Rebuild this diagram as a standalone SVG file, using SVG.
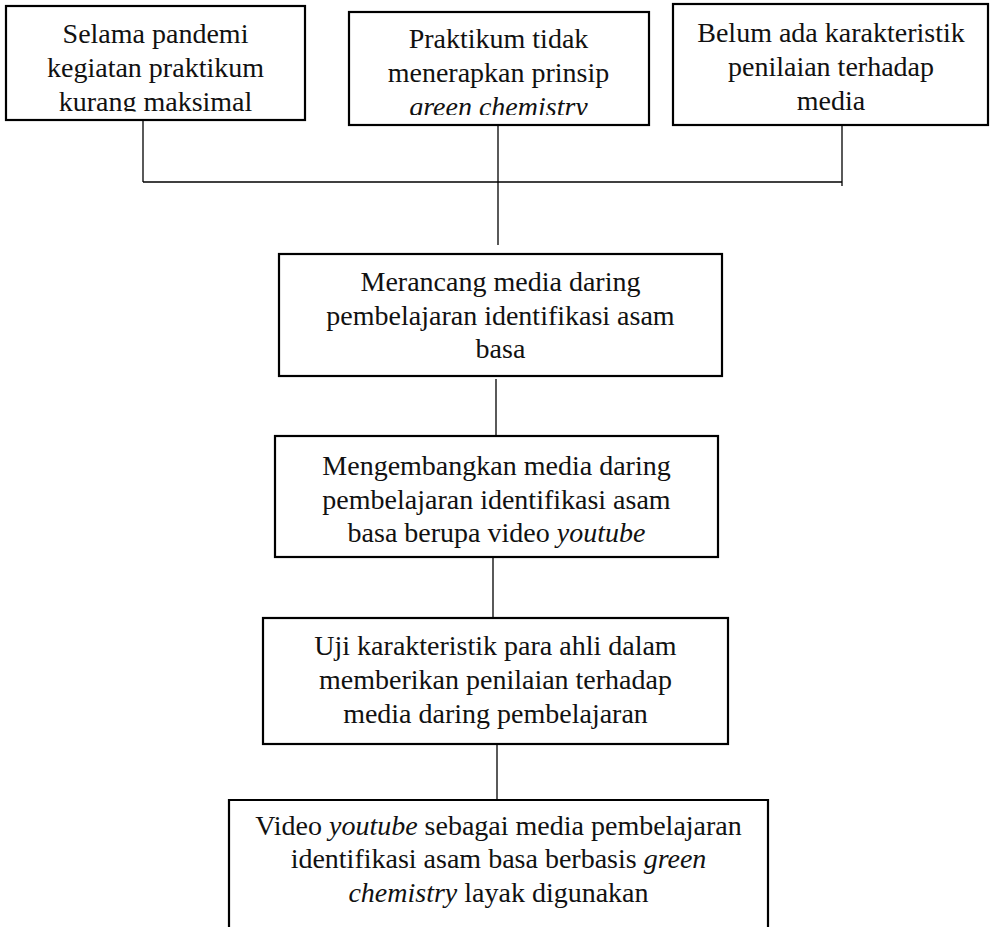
<svg xmlns="http://www.w3.org/2000/svg" width="992" height="927" viewBox="0 0 992 927">
  <style>
    .box { fill: #ffffff; stroke: #000000; stroke-width: 2.2; }
    .conn { stroke: #000000; stroke-width: 1.3; fill: none; }
    .t { font-family: "Liberation Serif", "Times New Roman", serif; font-size: 28px; fill: #111111; text-anchor: middle; }
    .i { font-style: italic; }
  </style>
  <defs>
    <clipPath id="clip1"><rect x="6" y="6" width="299" height="105.5"/></clipPath>
    <clipPath id="clip2"><rect x="349" y="12" width="300" height="103"/></clipPath>
  </defs>
  <rect width="992" height="927" fill="#ffffff"/>

  <g id="connectors">
    <line class="conn" x1="143" y1="120" x2="143" y2="182"/>
    <line class="conn" x1="143" y1="182" x2="842" y2="182"/>
    <line class="conn" x1="498" y1="125" x2="498" y2="245"/>
    <line class="conn" x1="842" y1="125" x2="842" y2="186"/>
    <line class="conn" x1="496" y1="379" x2="496" y2="437"/>
    <line class="conn" x1="493" y1="557" x2="493" y2="618"/>
    <line class="conn" x1="497" y1="742" x2="497" y2="800"/>
  </g>

  <g id="node1">
    <rect class="box" x="6" y="6" width="299" height="114"/>
    <g clip-path="url(#clip1)">
      <text class="t" x="155.5" y="43">Selama pandemi</text>
      <text class="t" x="155.5" y="77">kegiatan praktikum</text>
      <text class="t" x="155.5" y="111">kurang maksimal</text>
    </g>
  </g>

  <g id="node2">
    <rect class="box" x="349" y="12" width="300" height="113"/>
    <g clip-path="url(#clip2)">
      <text class="t" x="498.5" y="48">Praktikum tidak</text>
      <text class="t" x="498.5" y="82">menerapkan prinsip</text>
      <text class="t i" x="498.5" y="116">green chemistry</text>
    </g>
  </g>

  <g id="node3">
    <rect class="box" x="673" y="4" width="315" height="121"/>
    <text class="t" x="831" y="42">Belum ada karakteristik</text>
    <text class="t" x="831" y="76">penilaian terhadap</text>
    <text class="t" x="831" y="110">media</text>
  </g>

  <g id="node4">
    <rect class="box" x="279" y="254" width="443" height="122"/>
    <text class="t" x="500.5" y="291">Merancang media daring</text>
    <text class="t" x="500.5" y="325">pembelajaran identifikasi asam</text>
    <text class="t" x="500.5" y="358">basa</text>
  </g>

  <g id="node5">
    <rect class="box" x="275" y="436" width="443" height="121"/>
    <text class="t" x="496.5" y="475">Mengembangkan media daring</text>
    <text class="t" x="496.5" y="509">pembelajaran identifikasi asam</text>
    <text class="t" x="496.5" y="542">basa berupa video <tspan class="i">youtube</tspan></text>
  </g>

  <g id="node6">
    <rect class="box" x="263" y="618" width="465" height="126"/>
    <text class="t" x="495.5" y="655">Uji karakteristik para ahli dalam</text>
    <text class="t" x="495.5" y="689">memberikan penilaian terhadap</text>
    <text class="t" x="495.5" y="723">media daring pembelajaran</text>
  </g>

  <g id="node7">
    <path class="box" d="M229,930 V800 H768 V930"/>
    <text class="t" x="498.5" y="835">Video <tspan class="i">youtube</tspan> sebagai media pembelajaran</text>
    <text class="t" x="498.5" y="868">identifikasi asam basa berbasis <tspan class="i">green</tspan></text>
    <text class="t" x="498.5" y="902"><tspan class="i">chemistry</tspan> layak digunakan</text>
  </g>
</svg>
